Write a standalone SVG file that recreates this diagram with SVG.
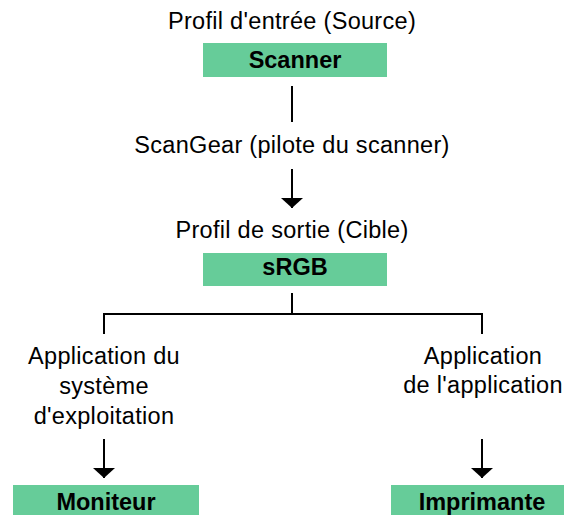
<svg xmlns="http://www.w3.org/2000/svg" width="564" height="515" viewBox="0 0 564 515">
<style>
  .lbl { font-family: "Liberation Sans", Arial, sans-serif; font-size: 23.5px; letter-spacing: 0.3px; fill: #000; text-anchor: middle; }
  .box { fill: #66CC99; }
  .bt { font-family: "Liberation Sans", Arial, sans-serif; font-size: 23.5px; font-weight: bold; fill: #000; text-anchor: middle; }
  .ln { stroke: #000; stroke-width: 2; fill: none; }
</style>
<defs>
  <marker id="ah" markerUnits="userSpaceOnUse" markerWidth="11" markerHeight="22" refX="10" refY="11" orient="auto" viewBox="0 0 11 22">
    <path d="M0,0 L10,11 L0,22 z" fill="#000"/>
  </marker>
</defs>
<rect width="564" height="515" fill="#fff"/>
<g id="connectors">
  <line class="ln" x1="292" y1="86" x2="292" y2="122"/>
  <line class="ln" x1="292" y1="169" x2="292" y2="208" marker-end="url(#ah)"/>
  <polyline class="ln" points="104,334 104,314 482,314 482,334"/>
  <line class="ln" x1="292" y1="293" x2="292" y2="314"/>
  <line class="ln" x1="104" y1="439" x2="104" y2="478" marker-end="url(#ah)"/>
  <line class="ln" x1="482" y1="439" x2="482" y2="478" marker-end="url(#ah)"/>
</g>
<g id="source">
  <text class="lbl" x="292" y="29">Profil d'entrée (Source)</text>
  <rect class="box" x="203" y="43" width="184" height="34"/>
  <text class="bt" x="295" y="68">Scanner</text>
</g>
<g id="scangear">
  <text class="lbl" x="292" y="153">ScanGear (pilote du scanner)</text>
</g>
<g id="target">
  <text class="lbl" x="292" y="238">Profil de sortie (Cible)</text>
  <rect class="box" x="203" y="253" width="184" height="33"/>
  <text class="bt" x="295" y="275">sRGB</text>
</g>
<g id="os">
  <text class="lbl" x="104" y="364">Application du</text>
  <text class="lbl" x="104" y="394">système</text>
  <text class="lbl" x="104" y="424">d'exploitation</text>
</g>
<g id="app">
  <text class="lbl" x="483" y="364">Application</text>
  <text class="lbl" x="483" y="393">de l'application</text>
</g>
<g id="moniteur">
  <rect class="box" x="13" y="485" width="186" height="32"/>
  <text class="bt" x="106" y="510">Moniteur</text>
</g>
<g id="imprimante">
  <rect class="box" x="391" y="485" width="175" height="32"/>
  <text class="bt" x="482" y="510">Imprimante</text>
</g>
</svg>
